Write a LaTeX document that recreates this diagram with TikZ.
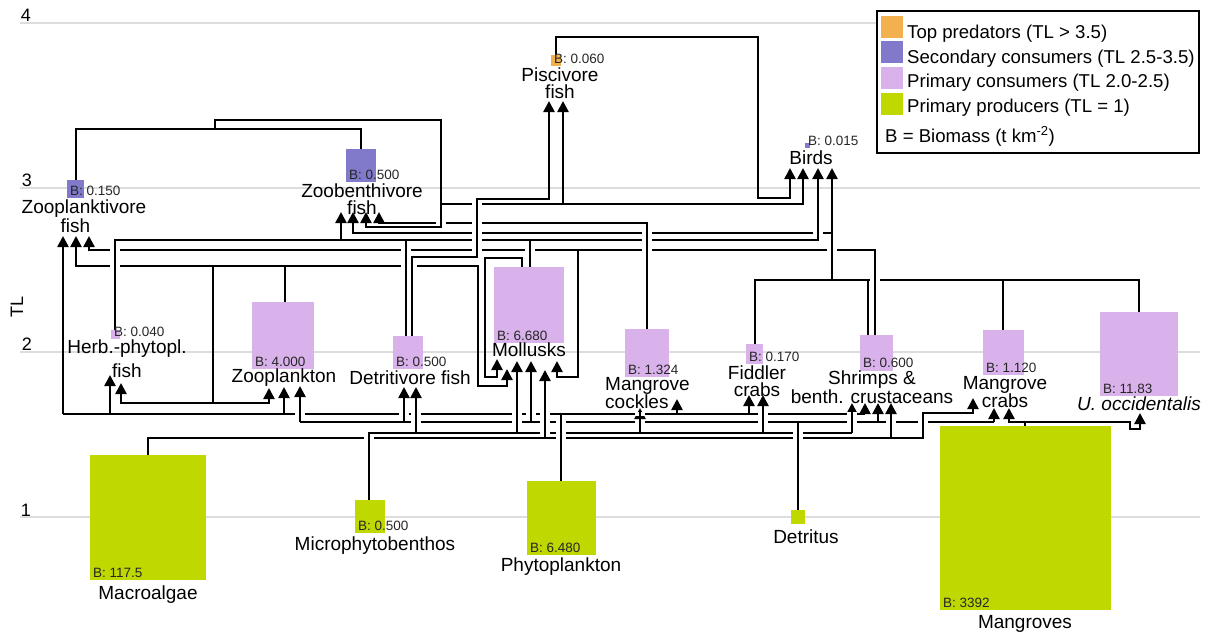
\documentclass[tikz,border=0pt]{standalone}
\usepackage{fontspec}
\setmainfont{Liberation Sans}
\usetikzlibrary{arrows.meta}
\definecolor{topc}{HTML}{F2B04E}
\definecolor{secc}{HTML}{817ACA}
\definecolor{primc}{HTML}{D9B2EB}
\definecolor{prodc}{HTML}{BFD800}
\definecolor{gridc}{HTML}{DDDDDD}
\newcommand{\xing}[2]{%
  \fill[white] (#1,#2) ++(-5,-2.3) rectangle ++(10,4.6);
  \draw[link] (#1,#2) ++(0,-3.5) -- ++(0,7);}
\begin{document}
\begin{tikzpicture}[x=1pt,y=-1pt,
  bio/.style={inner sep=0,outer sep=0,anchor=north west,draw=none},
  blab/.style={anchor=west,inner sep=0,font=\fontsize{13.5}{14}\selectfont,text=black!85},
  lab/.style={anchor=north,align=center,inner sep=0,font=\fontsize{19}{16.5}\selectfont},
  axl/.style={inner sep=0,font=\fontsize{18}{18}\selectfont},
  gridl/.style={draw=gridc,line width=1.6pt},
  link/.style={draw=black,line width=2.4pt},
  arr/.style={-{Triangle[width=11pt,length=11pt]}},
  legt/.style={anchor=base west,inner sep=0,font=\fontsize{18.6}{18.6}\selectfont}]
\useasboundingbox (0,0) rectangle (1211,635);
% grid
\draw[gridl] (20,23) -- (1200,23);
\draw[gridl] (20,188) -- (1200,188);
\draw[gridl] (20,352) -- (1200,352);
\draw[gridl] (20,517) -- (1200,517);
\node[axl] (t4) at (26,15) {4};
\node[axl] (t3) at (27,180) {3};
\node[axl] (t2) at (27,344) {2};
\node[axl] (t1) at (26,510) {1};
\node[axl,rotate=90] (tl) at (17,307) {TL};
% boxes
\node[bio,fill=topc,minimum width=10pt,minimum height=11pt] (pis) at (551,55) {};
\node[bio,fill=secc,minimum width=5pt,minimum height=5pt] (bir) at (805,143) {};
\node[bio,fill=secc,minimum width=17pt,minimum height=18pt] (zpf) at (67,180) {};
\node[bio,fill=secc,minimum width=30pt,minimum height=33pt] (zbf) at (346,149) {};
\node[bio,fill=primc,minimum width=9pt,minimum height=9pt] (hpf) at (111,330) {};
\node[bio,fill=primc,minimum width=62pt,minimum height=67pt] (zoo) at (252,302) {};
\node[bio,fill=primc,minimum width=30pt,minimum height=33pt] (dtf) at (393,336) {};
\node[bio,fill=primc,minimum width=70pt,minimum height=76pt] (mol) at (494,267) {};
\node[bio,fill=primc,minimum width=44pt,minimum height=48pt] (coc) at (625,329) {};
\node[bio,fill=primc,minimum width=17pt,minimum height=20pt] (fid) at (746,344) {};
\node[bio,fill=primc,minimum width=33pt,minimum height=36pt] (shr) at (860,335) {};
\node[bio,fill=primc,minimum width=41pt,minimum height=45pt] (mcr) at (983,330) {};
\node[bio,fill=primc,minimum width=78pt,minimum height=84pt] (uoc) at (1100,312) {};
\node[bio,fill=prodc,minimum width=116pt,minimum height=125pt] (mac) at (90,455) {};
\node[bio,fill=prodc,minimum width=30pt,minimum height=33pt] (mpb) at (355,500) {};
\node[bio,fill=prodc,minimum width=69pt,minimum height=74pt] (phy) at (527,481) {};
\node[bio,fill=prodc,minimum width=14pt,minimum height=14pt] (det) at (791,510) {};
\node[bio,fill=prodc,minimum width=171pt,minimum height=184pt] (mgv) at (940,426) {};
% connectors (upper)
\draw[link,arr] (556,55) -- (556,37) -- (758,37) -- (758,198) -- (790,198) -- (790,168);
\draw[link] (76,180) -- (76,129) -- (361,129) -- (361,149);
\draw[link,arr] (215,129) -- (215,120) -- (441,120) -- (441,227) -- (366,227) -- (366,212);
\draw[link,arr] (441,204) -- (803,204) -- (803,168);
\draw[link,arr] (563,204) -- (563,101);
\draw[link,arr] (412,336) -- (412,257) -- (477,257) -- (477,199) -- (549,199) -- (549,101);
\draw[link,arr] (115,330) -- (115,240) -- (818,240) -- (818,168);
\draw[link,arr] (341,240) -- (341,212);
\draw[link] (530,240) -- (530,267);
\draw[link] (406,240) -- (406,336);
\draw[link,arr] (647,329) -- (647,223) -- (379,223) -- (379,212);
\draw[link] (755,344) -- (755,280) -- (1139,280) -- (1139,312);
\draw[link] (868,280) -- (868,335);
\draw[link] (1003,280) -- (1003,330);
\draw[link,arr] (832,280) -- (832,168);
\draw[link,arr] (832,233) -- (353,233) -- (353,212);
\draw[link,arr] (875,335) -- (875,250) -- (89,250) -- (89,236);
\draw[link,arr] (578,250) -- (578,377) -- (557,377) -- (557,361);
\draw[link,arr] (285,302) -- (285,266) -- (76,266) -- (76,236);
\draw[link,arr] (285,266) -- (478,266) -- (478,386) -- (507,386) -- (507,369);
\draw[link] (213,266) -- (213,403);
\draw[link,arr] (213,403) -- (121,403) -- (121,383);
\draw[link,arr] (213,403) -- (269,403) -- (269,388);
\draw[link,arr] (522,267) -- (522,258) -- (485,258) -- (485,377) -- (497,377) -- (497,359);
% connectors (lower)
\draw[link] (561,481) -- (561,414);
\draw[link] (63,414) -- (865,414);
\draw[link,arr] (63,414) -- (63,236);
\draw[link,arr] (110,414) -- (110,375);
\draw[link,arr] (284,414) -- (284,387);
\draw[link,arr] (677,414) -- (677,399);
\draw[link,arr] (749,414) -- (749,395);
\draw[link,arr] (865,414) -- (865,403);
\draw[link] (798,510) -- (798,422);
\draw[link] (300,422) -- (994,422);
\draw[link,arr] (300,422) -- (300,386);
\draw[link,arr] (404,422) -- (404,387);
\draw[link,arr] (531,422) -- (531,361);
\draw[link,arr] (878,422) -- (878,403);
\draw[link,arr] (994,422) -- (994,408);
\draw[link] (369,500) -- (369,433) -- (852,433);
\draw[link,arr] (416,433) -- (416,387);
\draw[link,arr] (517,433) -- (517,361);
\draw[link,arr] (640,433) -- (640,408);
\draw[link,arr] (763,433) -- (763,395);
\draw[link,arr] (852,433) -- (852,403);
\draw[link,arr] (148,455) -- (148,438) -- (923,438) -- (923,413) -- (973,413) -- (973,398);
\draw[link,arr] (545,438) -- (545,370);
\draw[link,arr] (891,438) -- (891,403);
\draw[link] (1025,426) -- (1025,422);
\draw[link,arr] (1025,422) -- (1009,422) -- (1009,408);
\draw[link,arr] (1025,422) -- (1130,422) -- (1130,429) -- (1140,429) -- (1140,413);
% crossings (horizontal line broken under vertical)
\xing{477}{204}
\xing{477}{240}\xing{647}{240}
\xing{441}{223}\xing{477}{223}
\xing{875}{280}
\xing{477}{233}\xing{647}{233}\xing{818}{233}
\xing{115}{250}\xing{406}{250}\xing{477}{250}\xing{530}{250}\xing{647}{250}\xing{832}{250}
\xing{115}{266}\xing{406}{266}\xing{412}{266}
\xing{300}{414}\xing{404}{414}\xing{416}{414}\xing{517}{414}\xing{531}{414}\xing{545}{414}\xing{640}{414}\xing{763}{414}\xing{852}{414}
\xing{416}{422}\xing{517}{422}\xing{545}{422}\xing{561}{422}\xing{640}{422}\xing{763}{422}\xing{852}{422}\xing{891}{422}\xing{923}{422}
\xing{545}{433}\xing{561}{433}\xing{798}{433}
\xing{369}{438}\xing{561}{438}\xing{798}{438}
% biomass labels
\node[blab] (bpis) at (554,59) {B: 0.060};
\node[blab] (bbir) at (808,141) {B: 0.015};
\node[blab] (bzpf) at (70,191) {B: 0.150};
\node[blab] (bzbf) at (349,175) {B: 0.500};
\node[blab] (bhpf) at (114,332) {B: 0.040};
\node[blab] (bzoo) at (255,362) {B: 4.000};
\node[blab] (bdtf) at (396,362) {B: 0.500};
\node[blab] (bmol) at (497,336) {B: 6.680};
\node[blab] (bcoc) at (628,370) {B: 1.324};
\node[blab] (bfid) at (749,357) {B: 0.170};
\node[blab] (bshr) at (863,363) {B: 0.600};
\node[blab] (bmcr) at (986,368) {B: 1.120};
\node[blab] (buoc) at (1103,389) {B: 11.83};
\node[blab] (bmac) at (93,573) {B: 117.5};
\node[blab] (bmpb) at (358,526) {B: 0.500};
\node[blab] (bphy) at (530,548) {B: 6.480};
\node[blab] (bmgv) at (943,603) {B: 3392};
% names
\node[lab] (lpis) at (560,68) {Piscivore\\fish};
\node[lab] (lbir) at (811,151) {Birds};
\node[lab] (lzpf) at (84,200) {Zooplanktivore\\fish\hspace*{17pt}};
\node[lab] (lzbf) at (362,184) {Zoobenthivore\\fish};
\node[lab] (lhpf) at (127,340) {Herb.-phytopl.\\[5pt]fish};
\node[lab] (lzoo) at (284,369) {Zooplankton};
\node[lab] (ldtf) at (410,371) {Detritivore fish};
\node[lab] (lmol) at (529,343) {Mollusks};
\node[lab,anchor=north west,align=left] (lcoc) at (605,377) {Mangrove\\cockles};
\node[lab] (lfid) at (757,366) {Fiddler\\crabs};
\node[lab] (lshr) at (872,371) {Shrimps \&\\benth. crustaceans};
\node[lab] (lmcr) at (1005,376) {Mangrove\\crabs};
\node[lab] (luoc) at (1139,397) {\itshape U. occidentalis};
\node[lab] (lmac) at (148,586) {Macroalgae};
\node[lab] (lmpb) at (375,537) {Microphytobenthos};
\node[lab] (lphy) at (561,558) {Phytoplankton};
\node[lab] (ldet) at (806,530) {Detritus};
\node[lab] (lmgv) at (1025,615) {Mangroves};
% legend
\draw[fill=white,line width=2.5pt] (877,11) rectangle (1199,153);
\fill[topc] (881,16) rectangle (903,38);
\fill[secc] (881,41) rectangle (903,63);
\fill[primc] (881,67) rectangle (903,89);
\fill[prodc] (881,93) rectangle (903,115);
\node[legt] (lg1) at (907,38) {Top predators (TL > 3.5)};
\node[legt] (lg2) at (907,63) {Secondary consumers (TL 2.5-3.5)};
\node[legt] (lg3) at (907,87) {Primary consumers (TL 2.0-2.5)};
\node[legt] (lg4) at (907,112) {Primary producers (TL = 1)};
\node[legt] (lg5) at (885,142) {B = Biomass (t km\textsuperscript{-2})};
\end{tikzpicture}
\end{document}
